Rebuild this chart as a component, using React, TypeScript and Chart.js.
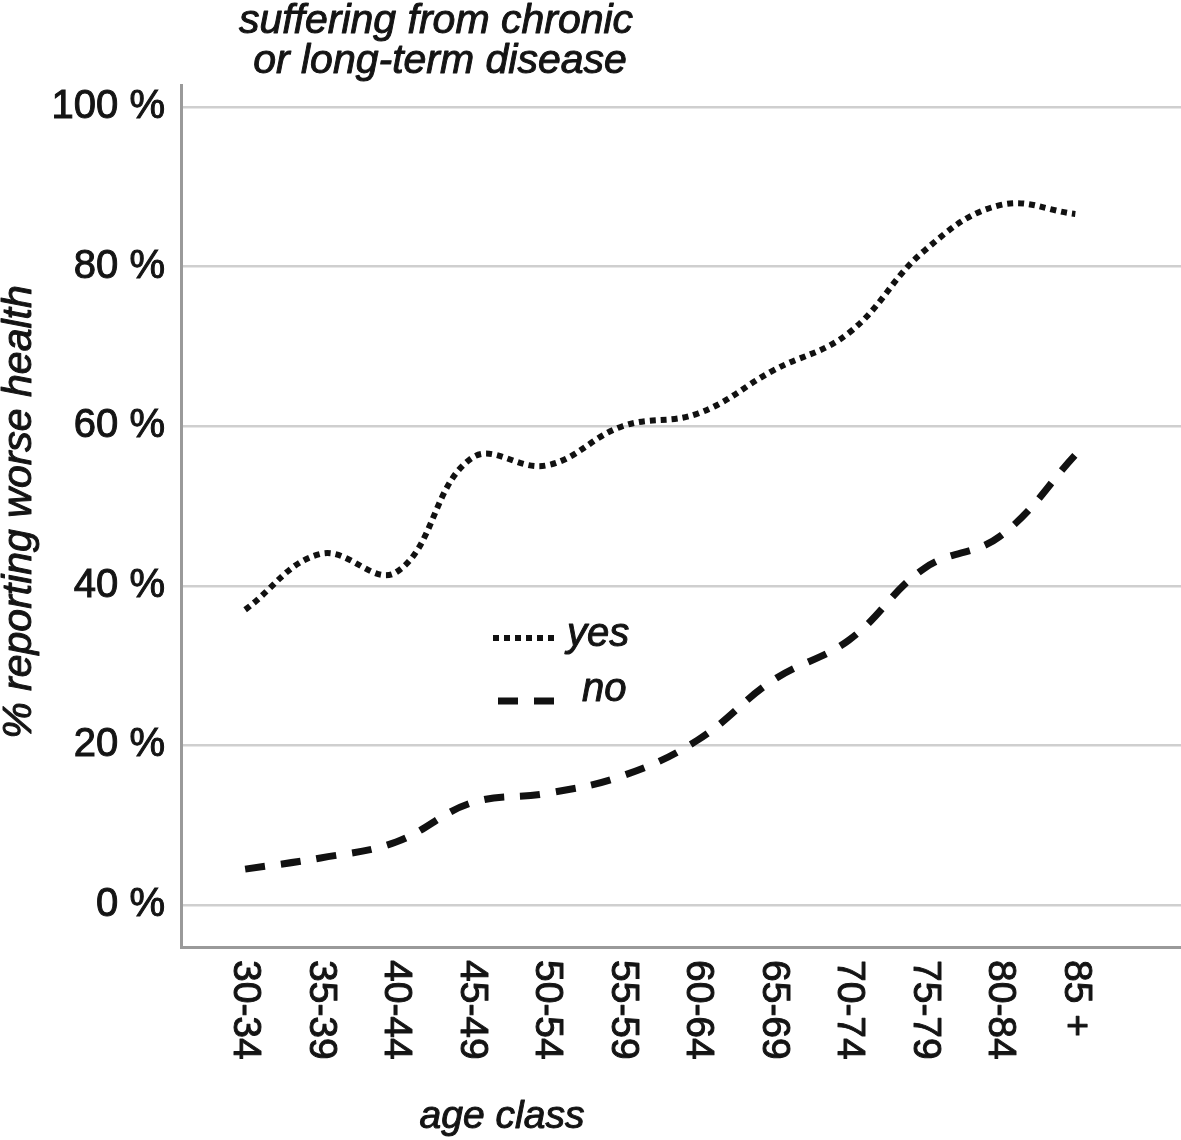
import React, { useEffect, useRef } from "react";
import { Chart, registerables } from "chart.js";

Chart.register(...registerables);

// ---- data ----
const ageClasses = ["30-34", "35-39", "40-44", "45-49", "50-54", "55-59", "60-64", "65-69", "70-74", "75-79", "80-84", "85 +"];
const yesValues = [37, 44, 41.7, 56, 55.1, 60, 61.6, 67, 71.7, 82, 87.7, 86.6];
const noValues = [4.5, 5.9, 7.9, 12.8, 14, 16.2, 20.7, 28.2, 33.2, 42.2, 46.2, 56.4];
const yTickValues = [0, 20, 40, 60, 80, 100];
const seriesLabels = ["yes", "no"];
const titleLines = ["suffering from chronic", "or long-term disease"];
const xAxisTitle = "age class";
const yAxisTitle = "% reporting worse health";

const FONT = "'Liberation Sans', Arial, Helvetica, sans-serif";
const TEXT = "#141414";
const YES_DASH = [6, 5];
const NO_DASH = [20, 16];
const STROKE = 1;

function heavyText(ctx: CanvasRenderingContext2D, s: string, x: number, y: number) {
  ctx.fillText(s, x, y);
  ctx.strokeText(s, x, y);
}

const decorations = {
  id: "decorations",
  afterDraw(chart: any) {
    const ctx = chart.ctx as CanvasRenderingContext2D;
    const xs = chart.scales.x;
    const area = chart.chartArea;
    ctx.save();
    ctx.fillStyle = TEXT;
    ctx.strokeStyle = TEXT;
    ctx.lineWidth = STROKE;
    ctx.lineJoin = "round";

    // chart title (two lines)
    ctx.font = `italic 41px ${FONT}`;
    ctx.textAlign = "center";
    ctx.textBaseline = "alphabetic";
    heavyText(ctx, titleLines[0], 436, 33);
    heavyText(ctx, titleLines[1], 440, 73);

    // y axis title, rotated counter-clockwise
    ctx.save();
    ctx.translate(20, (area.top + area.bottom) / 2 - 4);
    ctx.rotate(-Math.PI / 2);
    ctx.font = `italic 41px ${FONT}`;
    ctx.textAlign = "center";
    ctx.textBaseline = "middle";
    heavyText(ctx, yAxisTitle, 0, 0);
    ctx.restore();

    // x tick labels, rotated clockwise
    ctx.font = `39px ${FONT}`;
    ageClasses.forEach((lab, i) => {
      const x = xs.getPixelForValue(i);
      ctx.save();
      ctx.translate(x, area.bottom + 13);
      ctx.rotate(Math.PI / 2);
      ctx.textAlign = "left";
      ctx.textBaseline = "middle";
      heavyText(ctx, lab, 0, 0);
      ctx.restore();
    });

    // x axis title
    ctx.font = `italic 39px ${FONT}`;
    ctx.textAlign = "center";
    ctx.textBaseline = "alphabetic";
    heavyText(ctx, xAxisTitle, 502, 1128);

    // legend
    const legend = [
      { label: seriesLabels[0], dash: YES_DASH, w: 6, x0: 493, x1: 556, y: 638, tx: 567, ty: 635 },
      { label: seriesLabels[1], dash: NO_DASH, w: 7, x0: 498, x1: 556, y: 701, tx: 582, ty: 690 },
    ];
    ctx.font = `italic 40px ${FONT}`;
    ctx.textAlign = "left";
    ctx.textBaseline = "middle";
    legend.forEach((it) => {
      ctx.save();
      ctx.strokeStyle = "#111";
      ctx.lineWidth = it.w;
      ctx.lineCap = "butt";
      ctx.setLineDash(it.dash);
      ctx.beginPath();
      ctx.moveTo(it.x0, it.y);
      ctx.lineTo(it.x1, it.y);
      ctx.stroke();
      ctx.restore();
      heavyText(ctx, it.label, it.tx, it.ty);
    });

    ctx.restore();
  },
};

export default function App() {
  const ref = useRef<HTMLCanvasElement | null>(null);

  useEffect(() => {
    if (!ref.current) return;
    const chart = new Chart(ref.current, {
      type: "line",
      data: {
        datasets: [
          {
            label: seriesLabels[0],
            data: yesValues.map((v, i) => ({ x: i, y: v })),
            borderColor: "#111",
            borderWidth: 6,
            borderDash: YES_DASH,
            borderCapStyle: "butt",
            pointRadius: 0,
            tension: 0.4,
            fill: false,
          },
          {
            label: seriesLabels[1],
            data: noValues.map((v, i) => ({ x: i, y: v })),
            borderColor: "#111",
            borderWidth: 7,
            borderDash: NO_DASH,
            borderCapStyle: "butt",
            pointRadius: 0,
            tension: 0.4,
            fill: false,
          },
        ],
      },
      options: {
        responsive: false,
        animation: false,
        layout: { padding: { top: 85, left: 0, right: 0, bottom: 0 } },
        plugins: {
          legend: { display: false },
          tooltip: { enabled: false },
          title: { display: false },
        },
        scales: {
          x: {
            type: "linear",
            min: -0.85,
            max: 12.4,
            ticks: { display: false },
            grid: { display: false },
            border: { display: true, color: "#9a9a9a", width: 3 },
            afterFit: (s: any) => {
              s.height = 193;
            },
          },
          y: {
            type: "linear",
            min: -5.26,
            max: 102.76,
            afterBuildTicks: (s: any) => {
              s.ticks = yTickValues.map((v) => ({ value: v }));
            },
            ticks: {
              padding: 16,
              color: TEXT,
              textStrokeColor: TEXT,
              textStrokeWidth: STROKE,
              font: { family: FONT, size: 40 },
              callback: (v: any) => `${v} %`,
            },
            grid: { color: "#cfcfcf", lineWidth: 2.5, drawTicks: false },
            border: { display: true, color: "#9a9a9a", width: 3 },
            afterFit: (s: any) => {
              s.width = 181;
            },
          },
        },
      },
      plugins: [decorations],
    });
    return () => chart.destroy();
  }, []);

  return (
    <div style={{ position: "absolute", left: 0, top: 0, width: 1181, height: 1140, background: "#fff" }}>
      <canvas ref={ref} width={1181} height={1140} style={{ display: "block" }} />
    </div>
  );
}
